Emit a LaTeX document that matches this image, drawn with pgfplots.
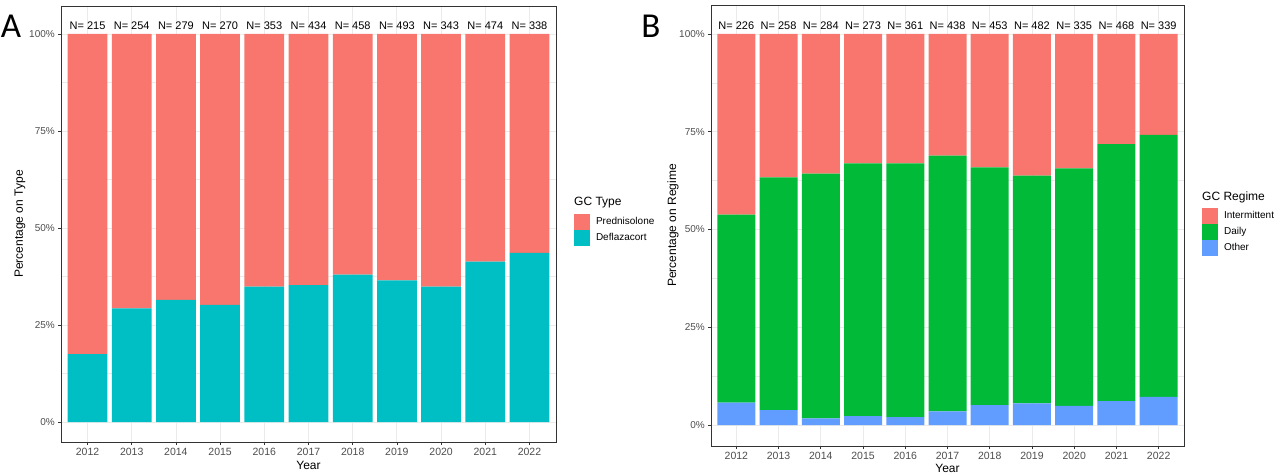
\documentclass[border=0pt]{standalone}
\usepackage{pgfplots}
\pgfplotsset{compat=1.18}
\usepackage{pgfplotstable}
\usepackage{fontspec}
\setmainfont{Liberation Sans}
\newfontfamily\letterfont{Carlito}
\definecolor{ggred}{HTML}{F8766D}
\definecolor{ggteal}{HTML}{00BFC4}
\definecolor{gggreen}{HTML}{00BA38}
\definecolor{ggblue}{HTML}{619CFF}
\definecolor{g20}{HTML}{333333}
\definecolor{g30}{HTML}{4D4D4D}
\definecolor{g92}{HTML}{EBEBEB}

\pgfplotstableread{
x deflaz pred
0 0.175 0.825
1 0.293 0.707
2 0.315 0.685
3 0.302 0.698
4 0.349 0.651
5 0.353 0.647
6 0.380 0.620
7 0.365 0.635
8 0.349 0.651
9 0.413 0.587
10 0.436 0.564
}\typetab

\pgfplotstableread{
x other daily inter
0 0.057 0.481 0.462
1 0.038 0.595 0.367
2 0.017 0.626 0.357
3 0.023 0.646 0.331
4 0.020 0.649 0.331
5 0.035 0.654 0.311
6 0.051 0.608 0.341
7 0.055 0.583 0.362
8 0.049 0.607 0.344
9 0.061 0.657 0.282
10 0.072 0.670 0.258
}\regtab

\pgfplotstableread{
x y n
0 1.02 215
1 1.02 254
2 1.02 279
3 1.02 270
4 1.02 353
5 1.02 434
6 1.02 458
7 1.02 493
8 1.02 343
9 1.02 474
10 1.02 338
}\ntabA

\pgfplotstableread{
x y n
0 1.02 226
1 1.02 258
2 1.02 284
3 1.02 273
4 1.02 361
5 1.02 438
6 1.02 453
7 1.02 482
8 1.02 335
9 1.02 468
10 1.02 339
}\ntabB

\pgfplotsset{
  keysq/.style={legend image code/.code={\fill[##1] (0.5pt,-8pt) rectangle (16.5pt,8pt);}},
  ggbase/.style={
    scale only axis,
    xmin=-0.6, xmax=10.6,
    xtick={0,...,10},
    xticklabels={2012,2013,2014,2015,2016,2017,2018,2019,2020,2021,2022},
    ytick={0,0.25,0.5,0.75,1},
    yticklabels={0\%,25\%,50\%,75\%,100\%},
    minor ytick={0.125,0.375,0.625,0.875},
    tickpos=left,
    tick align=outside,
    major tick length=3pt,
    minor tick length=0pt,
    tick style={g20, line width=0.7pt},
    axis line style={g20, line width=0.8pt},
    grid=both,
    major grid style={g92, line width=0.8pt},
    minor grid style={g92, line width=0.4pt},
    xticklabel style={font=\fontsize{10.5}{12}\selectfont, text=g30, anchor=north, inner sep=0pt, yshift=-3pt},
    yticklabel style={font=\fontsize{10}{12}\selectfont, text=g30, anchor=east, inner sep=0pt, xshift=-3pt},
    label style={font=\fontsize{12}{14}\selectfont, text=black},
    ybar stacked,
    bar width=0.9,
    legend cell align=left,
    reverse legend,
    legend style={draw=none, fill=none, inner sep=0pt, outer sep=0pt, row sep=0pt, column sep=6pt,
      anchor=north west, font=\fontsize{10}{12}\selectfont, nodes={inner sep=0pt}},
  },
  nbase/.style={
    scale only axis, hide axis,
    xmin=-0.6, xmax=10.6,
  }
}

\begin{document}
\begin{tikzpicture}
\useasboundingbox (0,0) rectangle (1280pt,475pt);

% Panel A
\begin{axis}[ggbase,
  at={(61pt,33pt)}, anchor=south west,
  width=495pt, height=436pt,
  ymin=-0.0515, ymax=1.072,
  xlabel={Year}, ylabel={Percentage on Type},
  xlabel style={at={(axis description cs:0.5,-0.0528)}, anchor=center},
  ylabel style={at={(axis description cs:-0.0828,0.5)}, anchor=center},
  legend style={at={(axis description cs:1.0364,0.5229)}},
]
\addplot[fill=ggteal, draw=none, keysq] table[x=x, y=deflaz] {\typetab};
\addlegendentry{Deflazacort}
\addplot[fill=ggred, draw=none, keysq] table[x=x, y=pred] {\typetab};
\addlegendentry{Prednisolone}
\end{axis}
\begin{axis}[nbase,
  at={(61pt,33pt)}, anchor=south west,
  width=495pt, height=436pt,
  ymin=-0.0515, ymax=1.072]
\addplot[draw=none, mark=none, nodes near coords={N= \pgfplotspointmeta},
  point meta=explicit symbolic,
  every node near coord/.append style={anchor=center, inner sep=0pt, font=\fontsize{11}{13}\selectfont, text=black}]
  table[x=x, y=y, meta=n] {\ntabA};
\end{axis}

% Panel B
\begin{axis}[ggbase,
  at={(711pt,29pt)}, anchor=south west,
  width=473pt, height=441pt,
  ymin=-0.0537, ymax=1.074,
  xlabel={Year}, ylabel={Percentage on Regime},
  xlabel style={at={(axis description cs:0.5,-0.0499)}, anchor=center},
  ylabel style={at={(axis description cs:-0.0803,0.5)}, anchor=center},
  legend style={at={(axis description cs:1.0381,0.5397)}},
]
\addplot[fill=ggblue, draw=none, keysq] table[x=x, y=other] {\regtab};
\addlegendentry{Other}
\addplot[fill=gggreen, draw=none, keysq] table[x=x, y=daily] {\regtab};
\addlegendentry{Daily}
\addplot[fill=ggred, draw=none, keysq] table[x=x, y=inter] {\regtab};
\addlegendentry{Intermittent}
\end{axis}
\begin{axis}[nbase,
  at={(711pt,29pt)}, anchor=south west,
  width=473pt, height=441pt,
  ymin=-0.0537, ymax=1.074]
\addplot[draw=none, mark=none, nodes near coords={N= \pgfplotspointmeta},
  point meta=explicit symbolic,
  every node near coord/.append style={anchor=center, inner sep=0pt, font=\fontsize{11}{13}\selectfont, text=black}]
  table[x=x, y=y, meta=n] {\ntabB};
\end{axis}

% legend titles
\node[anchor=west, inner sep=0pt, font=\fontsize{12}{14}\selectfont] at (574pt,272pt) {GC Type};
\node[anchor=west, inner sep=0pt, font=\fontsize{12}{14}\selectfont] at (1202pt,278pt) {GC Regime};

% panel letters
\node[anchor=center, inner sep=0pt, font=\letterfont\fontsize{35}{40}\selectfont] at (11pt,449pt) {A};
\node[anchor=center, inner sep=0pt, font=\letterfont\fontsize{35}{40}\selectfont] at (651pt,449pt) {B};
\end{tikzpicture}
\end{document}
